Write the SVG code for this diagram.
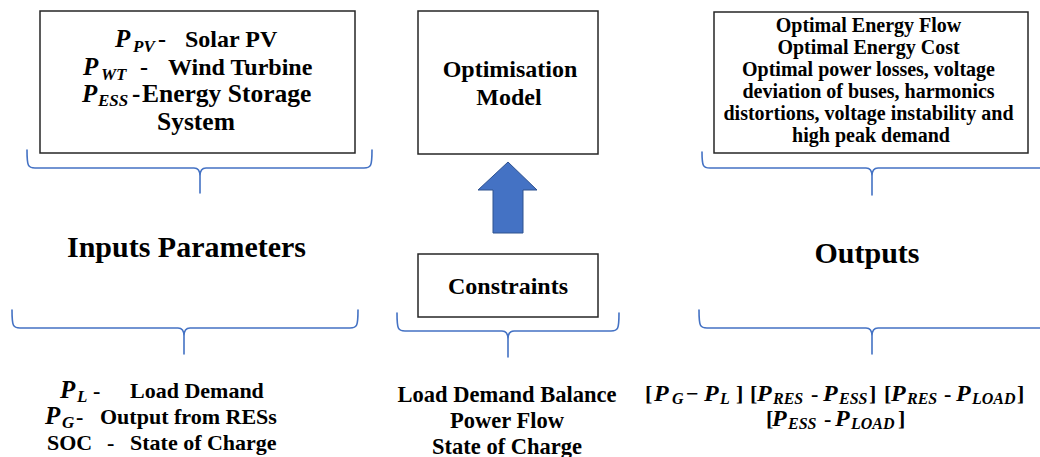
<svg xmlns="http://www.w3.org/2000/svg" width="1040" height="457" viewBox="0 0 1040 457">
  <style>
    .box { fill: #ffffff; stroke: #262626; stroke-width: 1.5; }
    .brace { fill: none; stroke: #4472C4; stroke-width: 1.6; stroke-linecap: round; stroke-linejoin: round; }
    .flow { fill: #4472C4; stroke: #2F528F; stroke-width: 1; }
    .t { font-family: 'Liberation Serif', 'Times New Roman', serif; font-weight: bold; fill: #000000; }
    .mi { font-style: italic; }
    .c { text-anchor: middle; }
  </style>
  <rect width="1040" height="457" fill="#ffffff"/>

  <!-- Connectors: grouping braces and the upward flow arrow -->
  <g id="connectors">
    <path class="brace" d="M27,150 C27,166 28,168 35,168 L194,168 C198,168 200,170 200,176 L200,193 M200,176 C200,170 202,168 206,168 L364,168 C371,168 372,166 372,150"/>
    <path class="brace" d="M702,152 C702,166 703,168 710,168 L866,168 C870,168 872,170 872,176 L872,195 M872,176 C872,170 874,168 878,168 L1046,168"/>
    <path class="brace" d="M12,310 C12,326 13,328 20,328 L178,328 C182,328 184,330 184,336 L184,354 M184,336 C184,330 186,328 190,328 L350,328 C357,328 358,326 358,310"/>
    <path class="brace" d="M397,313 C397,329 398,331 405,331 L502,331 C506,331 508,333 508,339 L508,357 M508,339 C508,333 510,331 514,331 L611,331 C618,331 619,329 619,313"/>
    <path class="brace" d="M699,310 C699,326 700,328 707,328 L866,328 C870,328 872,330 872,336 L872,354 M872,336 C872,330 874,328 878,328 L1046,328"/>
    <polygon id="constraints-to-model" class="flow" points="508,162 537,190 523,190 523,233 493,233 493,190 478,190"/>
  </g>

  <!-- Renewable sources box -->
  <g id="sources">
    <rect class="box" x="40" y="11" width="315" height="142"/>
    <text class="t" font-size="25"><tspan class="mi" x="115" y="47">P</tspan><tspan class="mi" font-size="17" x="133" y="52">PV</tspan><tspan font-size="24" x="158" y="47">-</tspan></text>
    <text class="t" font-size="24" x="185" y="47">Solar PV</text>
    <text class="t" font-size="25"><tspan class="mi" x="83" y="75">P</tspan><tspan class="mi" font-size="17" x="101" y="80">WT</tspan><tspan font-size="24" x="140" y="75">-</tspan></text>
    <text class="t" font-size="24" x="168" y="75">Wind Turbine</text>
    <text class="t" font-size="25"><tspan class="mi" x="82" y="102">P</tspan><tspan class="mi" font-size="17" x="98" y="106">ESS</tspan><tspan font-size="25" x="132" y="102">-</tspan></text>
    <text class="t" font-size="25.5" x="142" y="102">Energy Storage</text>
    <text class="t" font-size="25.5" x="157" y="130">System</text>
  </g>

  <!-- Optimisation model box -->
  <g id="optimisation-model">
    <rect class="box" x="418" y="11" width="180" height="143"/>
    <text class="t c" font-size="24" x="510" y="77">Optimisation</text>
    <text class="t c" font-size="24" x="509" y="105">Model</text>
  </g>

  <!-- Outputs box -->
  <g id="results">
    <rect class="box" x="714" y="12" width="314" height="141"/>
    <text class="t c" font-size="20" x="871">
      <tspan x="871" y="32">Optimal Energy Flow</tspan>
      <tspan x="871" y="54">Optimal Energy Cost</tspan>
      <tspan x="871" y="76">Optimal power losses, voltage</tspan>
      <tspan x="871" y="98">deviation of buses, harmonics</tspan>
      <tspan x="871" y="120">distortions, voltage instability and</tspan>
      <tspan x="871" y="142">high peak demand</tspan>
    </text>
  </g>

  <!-- Section headings -->
  <g id="inputs-heading">
    <text class="t" font-size="30" x="67" y="257" textLength="239" lengthAdjust="spacingAndGlyphs">Inputs Parameters</text>
  </g>
  <g id="outputs-heading">
    <text class="t c" font-size="30" x="867" y="263">Outputs</text>
  </g>

  <!-- Constraints box -->
  <g id="constraints">
    <rect class="box" x="418" y="254" width="180" height="63"/>
    <text class="t c" font-size="24" x="508" y="294">Constraints</text>
  </g>

  <!-- Input parameter list -->
  <g id="input-list">
    <text class="t" font-size="25"><tspan class="mi" x="60" y="398">P</tspan><tspan class="mi" font-size="17" x="77" y="402">L</tspan><tspan font-size="22" x="93" y="398">-</tspan></text>
    <text class="t" font-size="22" x="130" y="398">Load Demand</text>
    <text class="t" font-size="25"><tspan class="mi" x="45" y="424">P</tspan><tspan class="mi" font-size="17" x="62" y="428">G</tspan><tspan font-size="22" x="76" y="424">-</tspan></text>
    <text class="t" font-size="22" x="100" y="424">Output from RESs</text>
    <text class="t" font-size="22" x="47" y="450">SOC</text>
    <text class="t" font-size="22" x="107" y="450">-</text>
    <text class="t" font-size="22" x="130" y="450">State of Charge</text>
  </g>

  <!-- Constraint list -->
  <g id="constraint-list">
    <text class="t c" font-size="22.5" x="507" y="402">Load Demand Balance</text>
    <text class="t c" font-size="22.5" x="507" y="428">Power Flow</text>
    <text class="t c" font-size="22.5" x="507" y="454">State of Charge</text>
  </g>

  <!-- Output power balance terms -->
  <g id="output-terms">
    <text class="t" font-size="22"><tspan x="645" y="401">[</tspan><tspan class="mi" font-size="24" x="654" y="401">P</tspan><tspan class="mi" font-size="16" x="672" y="404">G</tspan><tspan x="686" y="401">−</tspan><tspan class="mi" font-size="24" x="704" y="401">P</tspan><tspan class="mi" font-size="16" x="720" y="404">L</tspan><tspan x="736" y="401">]</tspan><tspan x="750" y="401">[</tspan><tspan class="mi" font-size="24" x="757" y="401">P</tspan><tspan class="mi" font-size="16" x="773" y="404">RES</tspan><tspan x="811" y="401">-</tspan><tspan class="mi" font-size="24" x="823" y="401">P</tspan><tspan class="mi" font-size="16" x="839" y="404">ESS</tspan><tspan x="869" y="401">]</tspan><tspan x="884" y="401">[</tspan><tspan class="mi" font-size="24" x="891" y="401">P</tspan><tspan class="mi" font-size="16" x="907" y="404">RES</tspan><tspan x="944" y="401">-</tspan><tspan class="mi" font-size="24" x="956" y="401">P</tspan><tspan class="mi" font-size="16" x="972" y="404">LOAD</tspan><tspan x="1017" y="401">]</tspan></text>
    <text class="t" font-size="22"><tspan x="766" y="426">[</tspan><tspan class="mi" font-size="24" x="772" y="426">P</tspan><tspan class="mi" font-size="16" x="788" y="429">ESS</tspan><tspan x="824" y="426">-</tspan><tspan class="mi" font-size="24" x="835" y="426">P</tspan><tspan class="mi" font-size="16" x="851" y="429">LOAD</tspan><tspan x="898" y="426">]</tspan></text>
  </g>
</svg>
